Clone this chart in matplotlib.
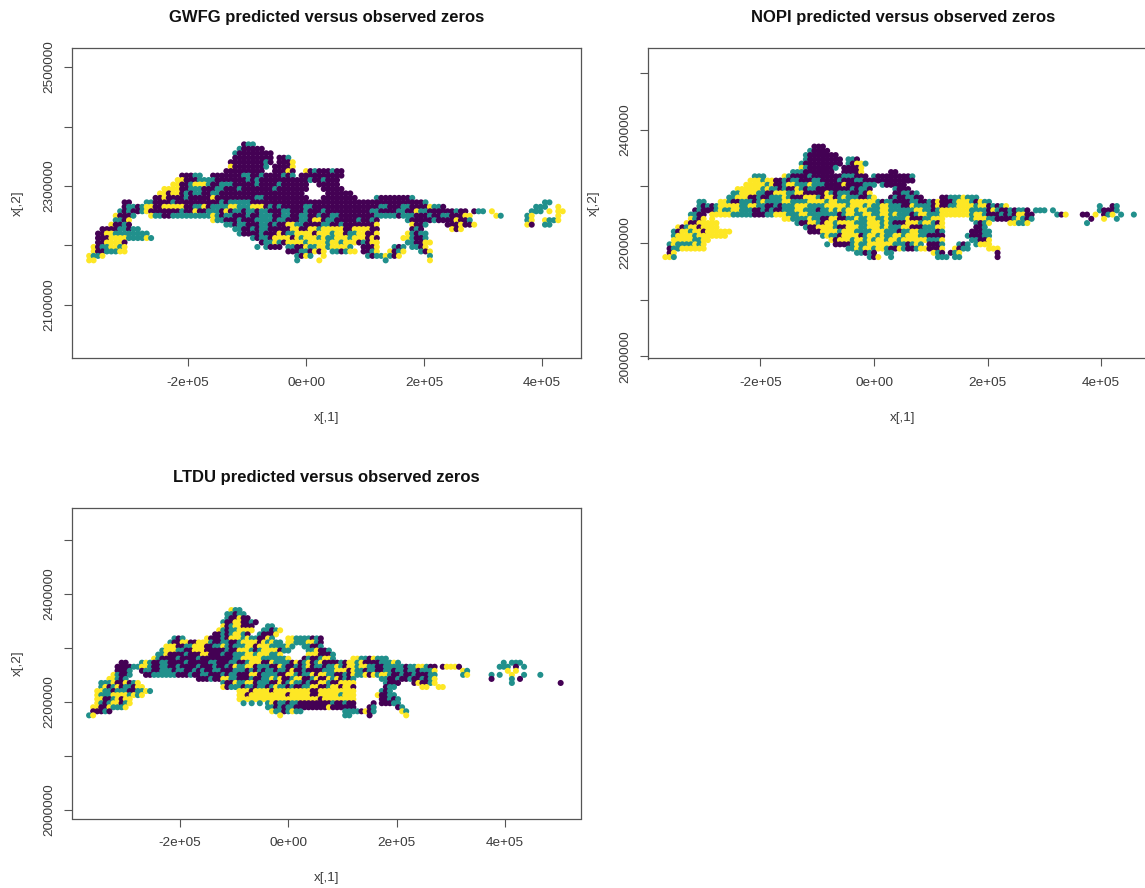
import matplotlib
matplotlib.use("Agg")
import matplotlib.pyplot as plt
plt.rcParams['font.family'] = ['Liberation Sans', 'DejaVu Sans']

W, H = 1145, 888
GRID_X0 = -367500.0
GRID_Y0 = 2370000.0
GRID_STEP = 7500.0
CLASS_COLOURS = {'P': '#440154', 'T': '#21908C', 'Y': '#FDE725'}

# One string per grid row, top to bottom; "col:" sets the grid column, P/T/Y = class
GWFG_ROWS = [
 "35:PTT",
 "34:TPPPPP",
 "33:TPPPPPPPP",
 "33:PPPPPPPPP 43:PPT",
 "32:PPPPPPPPTP 43:PPPY",
 "32:YPPPPPPPT 42:PPPPY",
 "31:PPPPPPPPP 42:PPPYP 49:YPTPPPTPP",
 "21:PPPTT 28:PPPPPPPTTP PTPPPPTPT 48:PPPPPPPPPP",
 "20:YYPPPTT 27:TTPPPPPPPT PTPPPPPPPP PPPTPPTPPP",
 "19:YYPPTYYYTP PTTTPPPPPT PPPPTPPPPP P 52:PPPPP",
 "17:YYYYPPTTTP PPTTPPPTPP PPPPPTPPPP PPP 53:PPPPP",
 "16:YYPYYPTPTT PPTTPPPPPP PPPPPPPPPP PPP 54:PPPPPP",
 "15:PPYPPPPTPP PPPYPPPPPP PPPTTPPPPP PPPPP 53:PPPPPPPP 65:TPPPPPPPT",
 "8:PP 13:TTPPPPTPPP PPPPPPPTPT TTTTPPPPPP PPPPPPPPPP PPPPPPPPPP PPPPPPPPPP PPPT 103:TT",
 "8:PTTPT 13:YYPPYYYYYP PTTYPTTTTY YTTTYYYPTP TPPPPPTTPP PPPPPPPPPP PPPTTPPPTT PPPPYTTP 101:TTT 106:Y",
 "7:TPTPPT 13:YPPPPPPPTP PYPPTTTPYP TTPTTPTTPP PTTPPPTPPP TPPPPPPPPP PTTPPPPTTP PYTTPPPPPP TPP 87:PTT 91:Y 100:TTT 104:Y 106:YY",
 "6:YPPPT 14:YTTPPTTTTT TTTTYTPTTP PPTPPTTTPP TTPPTTPPTP PTTPPPPPPP PTTTTTPTTT PPPTPPTTPP PYY 92:YT 99:TY 106:Y",
 "6:TTPY 28:YTTPPPTPPP TTTTPTTPPP TTPYYPTTPP PPPTPPTP 72:TPPPPPTPPP PYPPT 99:TY 103:YT 105:TY",
 "5:YPPTP 31:TTPTTPPPTT PTPPYYTTPP PPTTPPTPPP PPPPY 73:YPPT 81:PPPYPPY 99:YP 103:TT",
 "3:PPPPTTPTT 33:TTPPTPTTPP PPPYYPPYYT YYYYYPPYYY YPP 73:PTP 82:YPY",
 "2:PPYYTTTTTT TT 34:TPPPPTPPPY PTTYYYYPYY YTYYPTTY 62:YPPY 72:YTPTT",
 "2:PPPYYYYTTT TYT 37:TPTTPYYYYP YTYYYTYTTY YYTYY 62:YPYP 71:YYTPPT",
 "2:PPYYYYP 39:PTTYTPYYYY TYYYYTYYTY YYP 62:TPYY 72:TTPPY 77:Y",
 "1:YPTTYYTY 38:T 40:TPPP 45:TTPPYTTYYT YYYYT 62:PPPY 69:TPT 73:TTPY",
 "1:YPPTTTYY 45:PPPTTPYPY 55:TTPTYY 62:PPTY 68:YPTY 75:TPY",
 "0:YTTY 47:TPYT 53:Y 63:TPT 66:TYTPY 77:T",
 "0:YY 47:T 52:Y 67:T 77:Y",
]

NOPI_ROWS = [
 "35:PPP",
 "34:TPPPP",
 "33:TPPPPPPP",
 "33:TPPPPPPPP 43:TTP",
 "32:TPPPPPPPPP 43:TPYYT",
 "32:YTPPPPPPT 42:PPPPY",
 "30:TTTPPPPPPP 42:PPPPY 53:PP",
 "21:TTT 28:YTPPPPTPPP PPPPTTTPPP 49:TPPPPPPPPT",
 "20:YYYTYYPPTP TTPPPTTPPP PTPPPTTPPP PPPPPPPPP",
 "19:YYYYYTYPPT YYTTTYTTTP PPPYPPPPTT T 51:TPPPPP",
 "17:YYYYYYTYTT PTPPYTPTTP PPPPPPPTPT TP 54:TPPP",
 "16:TTYYYYTTPP YYYTTYYPPP PPYTPTTTPP TPY 54:PPTTPT",
 "15:TTYYYPPTPP TTTYTPPPYY YTPYYPTYTT TPPTY 53:PTPPTTPP 65:PPTTTYTTT",
 "8:TT 13:YYTPPTTTPT YTTTTYYTTT TYYYYTYYTT TYYYYYYTPT TPPPPTTPPT PYPPPTYYYT PYTT",
 "8:TPTPT 13:YYYYYTTYYT TPPTPTTTYY YTTTTYYYYY TYYYTYTTYY TTTPPYTTTT PYPPTTYYYY TYYPTPTY 102:T 105:PT",
 "7:PTPPPT 13:YTTYYTTTPP TPTPPTTTYY TTTPTTYTYT YYTYYTTTYY TTTTTTYYTT PTYYYYYYYT TTTPYTPPTP TTP 87:TTT 91:T 102:TPPPT",
 "6:TTPP 11:YYY 14:YYTTTTTPPP TTYYYTTTYY TTTTTTTPTY YTTYYTTYYT YTTTPTYYTT TYYYYYYYTY YTPPPTPTPY YPP 92:TPY 98:PP 101:Y 103:PT 105:Y 107:T 110:T",
 "6:YTPY 11:Y 28:YYTTTTYTTP PYYPPTTYTT YYTTYTTTTY PPPTTYYY 72:TYYYTTPPPP TYT 84:TPT 100:P 103:Y 106:T",
 "5:YPPYYYYY 31:TPPYYTPYYT YYYYTTTYYY TYTPPPYYYT YYTPY 73:TPTY 81:YYTTY 99:T",
 "3:YPTYYPYYYY 33:TPPYYYYTPP YYYTTYYYTY TTTYYPPPTT TYY 73:PPT",
 "2:TPYYTYYPYY YYYY 34:PPPYYYYTYY YTTTTYYYTT TPTTYYTT 62:TTPT 72:PPPTT",
 "2:TYYYYTYYYY YYY 37:TYTTPYYYYP TYYTYTTYYT YYYTT 62:PPPP 71:TPPPTT",
 "2:YYYYYTTYY 39:YPYYYTYYTY TYYTYYTYYY YYY 62:TTTY 72:TTPP 76:Y",
 "1:TYTTTTYTY 38:T 40:PPPP 44:TYTTYYYYY YTTTPTYT 62:PPPT 69:TPT 73:TYY 76:Y",
 "1:PTTYYYYYY 43:TTYTYYTYY TPPYTPPTYY 62:PPPY 68:YPTT 76:YYY",
 "1:PY 45:TTPTP 52:TT 63:YTP 67:PTY 78:P",
 "0:YYT 48:T 49:PY 53:T 64:TT 66:T 68:TT 78:P",
]

LTDU_ROWS = [
 "35:YTT",
 "34:TTPTT",
 "34:TPPYPP",
 "33:TPPYYPPTP",
 "33:YPTYYPPP 44:TT",
 "32:YTPTTYYYY 43:TTPTY",
 "31:PPTPTYYTP 42:TPPPY",
 "21:TPT 29:YPPPTPYYYT YTTPPYT 49:YYTTTTPTP",
 "20:TPPYYPPYYY TPPTTPPTYY YYPYTYTT 49:YYTTTYYTP",
 "19:YYYPPTTYYY PPTTYTPTTT YYPYYYTTTT Y 50:T 53:TTPPT",
 "18:TYYYTTPPYY YPPPPPTPPY YYTPTYYYYP TT 54:TTYPPT",
 "17:TTYPPPPTPP PYYPPPTPPT TTYYTYYYTT Y 54:YYYPPPT",
 "16:YTPPPPTPPP PTPPPPPPPP TTYYYYYTTT TTTY 53:PTPPTYYT 65:YYTTPYTTT",
 "8:PP 13:TYTPPTTPPP PTPPPPPTTP PPTTPPTYYY PPYTTTTPYP TYPTYPPPPT PYYTYPPPPT TTYT 102:T 104:TTT",
 "7:PPPPTT 13:YYTPPTTPPT PPPPTPPPTP PTPYTTYYPT TTPPYTPPTP TYPTTPTTYT PYYTYYTTPP TTTTTPTTYY TPP 87:PYYYP 101:TTT 105:P 107:T",
 "7:PPPT 13:PTTPPTTTPT TPPTPTPPTT PPPTTTPTPT PTTPTTPYPP TPPPPTTTYY YPYTTPTTPP TTPTTPTTPT TTY 92:YT 103:Y 105:Y",
 "6:YTPPT 14:PPTTTTTTPP PTPPTTPPPT PTTPPPYYPT TTTPPYYTPT TYPYYTTPPT PYTTYPYTYY TPPTPPTPP PTT 92:TY 99:T 101:T 104:Y 107:T 111:T",
 "5:YYTPT 27:PPPTPPYYTT PPPTPPTTYT YPPTYYPPTY PPYTYPTPT 72:TTPPTPPTPP TPTY 99:P 104:T 106:P",
 "3:TTTYPPYPTY 33:TPPYTTYYPT TTPPYPTYTT PTPPYYTPPY YYY 73:TPPP 80:PYPPTY 104:T 116:P",
 "3:TYPTYPTTPY Y 33:YPTTTPTTPT TPTYTTPTPP TTYYPPTYYP YYP 73:PTT 82:YY 86:YY",
 "2:YYTTPTTTPP TTYT 37:YYYPYYYYPY YYYYYYYYPP YYYYYYYYY 72:TPT",
 "2:YTTTYYYYTY TY 37:YYPYYYYYYY YYPYYYYYPP YYYYYTYYY 71:YPPTT",
 "2:YYPPTYPYY 37:YYYYYYYYYY YYYYYYYYYY PYYYYYYYY 72:PPTPT",
 "2:YTPTYYPTY 38:T 40:T 42:T 44:TYPTTPTTPP PPPPPPTPPT PP 70:P 72:PPPTT",
 "1:YYPPYTTTY 44:TTPTPTTPPP PPPPPYPPP 63:PPP 69:PT 76:PT",
 "1:PPPTP 45:YTTPTYTT 63:TTTTPY 69:PT 77:YT",
 "0:TY 47:Y 63:TT 69:P 78:Y",
]

X_TICKS = [-200000, 0, 200000, 400000]
X_LABELS = ['-2e+05', '0e+00', '2e+05', '4e+05']
Y_TICKS_A = [2100000, 2200000, 2300000, 2400000, 2500000]
Y_LABELS_A = ['2100000', '', '2300000', '', '2500000']
Y_TICKS_B = [2000000, 2100000, 2200000, 2300000, 2400000, 2500000]
Y_LABELS_B = ['2000000', '', '2200000', '', '2400000', '']

PANELS = [
 dict(rows=GWFG_ROWS, title='GWFG predicted versus observed zeros', box=(72, 48, 581, 358.5),
      xlim=(-396600, 466000), ylim=(2010000, 2532000), yt=Y_TICKS_A, yl=Y_LABELS_A),
 dict(rows=NOPI_ROWS, title='NOPI predicted versus observed zeros', box=(648, 48, 1158, 358.5),
      xlim=(-398000, 500000), ylim=(1996000, 2544000), yt=Y_TICKS_B, yl=Y_LABELS_B),
 dict(rows=LTDU_ROWS, title='LTDU predicted versus observed zeros', box=(72, 508, 581, 818.5),
      xlim=(-399000, 540000), ylim=(1984000, 2559000), yt=Y_TICKS_B, yl=Y_LABELS_B),
]


def decode(rows):
    xs, ys, cs = [], [], []
    for r, row in enumerate(rows):
        col = 0
        for tok in row.split():
            if ':' in tok:
                start, tok = tok.split(':')
                col = int(start)
            for ch in tok:
                xs.append(GRID_X0 + GRID_STEP * col)
                ys.append(GRID_Y0 - GRID_STEP * r)
                cs.append(CLASS_COLOURS[ch])
                col += 1
    return xs, ys, cs


fig = plt.figure(figsize=(W / 100, H / 100), dpi=100)
AXC = '#555555'
TXC = '#3a3a3a'
for p in PANELS:
    l, t, r, b = p['box']
    ax = fig.add_axes([l / W, 1 - b / H, (r - l) / W, (b - t) / H])
    xs, ys, cs = decode(p['rows'])
    ax.scatter(xs, ys, c=cs, s=19, linewidths=0, clip_on=True)
    ax.set_xlim(*p['xlim'])
    ax.set_ylim(*p['ylim'])
    ax.set_xticks(X_TICKS)
    ax.set_xticklabels(X_LABELS)
    ax.set_yticks(p['yt'])
    ax.set_yticklabels(p['yl'], rotation=90, va='center')
    ax.tick_params(axis='both', length=6, width=0.8, color=AXC, labelcolor=TXC, labelsize=9.7)
    ax.tick_params(axis='x', pad=7)
    ax.tick_params(axis='y', pad=6)
    for s in ax.spines.values():
        s.set_color(AXC)
        s.set_linewidth(0.9)
    cx = (l + r) / 2 / W
    fig.text(cx, 1 - (t - 30.5) / H, p['title'], ha='center', va='center', fontsize=12,
             fontweight='bold', color='#111111')
    fig.text(cx, 1 - (b + 59) / H, 'x[,1]', ha='center', va='center', fontsize=9.7, color=TXC)
    fig.text((l - 54.5) / W, 1 - (t + b) / 2 / H, 'x[,2]', ha='center', va='center', rotation=90,
             fontsize=9.7, color=TXC)

fig.savefig('out.png', dpi=100)
